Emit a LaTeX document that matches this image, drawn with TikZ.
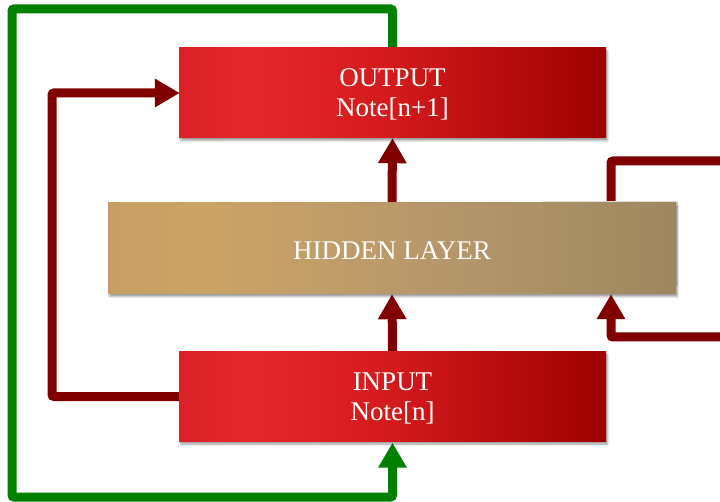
\documentclass[tikz,border=0pt]{standalone}
\usepackage{fontspec}
\setmainfont{Liberation Serif}
\usetikzlibrary{arrows.meta,shadows.blur}

% left-to-right shadings for the boxes (path spans 25bp..75bp)
\pgfdeclarehorizontalshading{redbox}{100bp}{%
  rgb(0bp)=(0.85,0.13,0.15); rgb(25bp)=(0.85,0.13,0.15);
  rgb(33bp)=(0.90,0.16,0.17); rgb(50bp)=(0.83,0.10,0.11);
  rgb(75bp)=(0.62,0.0,0.0); rgb(100bp)=(0.62,0.0,0.0)}
\pgfdeclarehorizontalshading{tanbox}{100bp}{%
  rgb(0bp)=(0.78,0.62,0.39); rgb(25bp)=(0.78,0.62,0.39);
  rgb(33bp)=(0.80,0.64,0.40); rgb(55bp)=(0.71,0.59,0.42);
  rgb(75bp)=(0.62,0.53,0.37); rgb(100bp)=(0.62,0.53,0.37)}

\definecolor{linkred}{RGB}{128,0,0}
\definecolor{linkgreen}{RGB}{0,128,0}

\pgfdeclarelayer{bg}
\pgfsetlayers{bg,main}

\tikzset{
  box/.style={rectangle, inner sep=0pt, text=white, align=center,
    text depth=0pt, font=\fontsize{27}{30}\selectfont,
    execute at begin node={\rule{0pt}{23pt}},
    blur shadow={shadow xshift=1.5pt, shadow yshift=-2.5pt,
      shadow blur radius=2pt, shadow opacity=40}},
  redbox/.style={box, shading=redbox, minimum width=427pt, minimum height=90pt},
  tanbox/.style={box, shading=tanbox, minimum width=568pt, minimum height=91pt},
  link/.style={line width=9pt, rounded corners=2pt},
  tip/.style={-{Triangle[width=27pt,length=25pt]}},
}

\begin{document}
\begin{tikzpicture}[x=1pt,y=-1pt]
  \useasboundingbox (0,0) rectangle (720,502);
  \clip (0,0) rectangle (720,502);

  % thin light edge peeking out behind the hidden layer
  \fill[black!12] (543,201) rectangle (678,286);

  \node[redbox] (out) at (392.5,93) {OUTPUT\\Note[n+1]};
  \node[tanbox] (hid) at (392,248.5) {HIDDEN LAYER};
  \node[redbox] (in)  at (392.5,396.5) {INPUT\\Note[n]};

  \coordinate (gTL) at (12,9);
  \coordinate (gBL) at (12,497);
  \coordinate (lTop) at (52,93);
  \coordinate (rx) at (611,0);
  \coordinate (rTop) at (730,161);
  \coordinate (rBot) at (611,337);

  \begin{pgfonlayer}{bg}
    % outer feedback loop
    \draw[link, linkgreen] (out.north) |- (gTL) -- (gBL) -| ([yshift=-12pt]in.south);
    \draw[linkgreen, tip, line width=9pt] ([yshift=-14pt]in.south) -- ([yshift=-1pt]in.south);
    % input straight to output
    \draw[link, linkred] (in.west) -| (lTop) -- ([xshift=-12pt]out.west);
    \draw[linkred, tip, line width=9pt] ([xshift=-14pt]out.west) -- ([xshift=1pt]out.west);
    % forward path
    \draw[linkred, tip, line width=9pt] (in.north) -- (hid.south);
    \draw[linkred, tip, line width=9pt] (hid.north) -- (out.south);
    % recurrent loop on the hidden layer
    \draw[link, linkred] (hid.north -| rx) |- (rTop) |- (rBot) -- ([yshift=-12pt]hid.south -| rx);
    \draw[linkred, tip, line width=9pt] ([yshift=-14pt]hid.south -| rx) -- (hid.south -| rx);
  \end{pgfonlayer}
\end{tikzpicture}
\end{document}
